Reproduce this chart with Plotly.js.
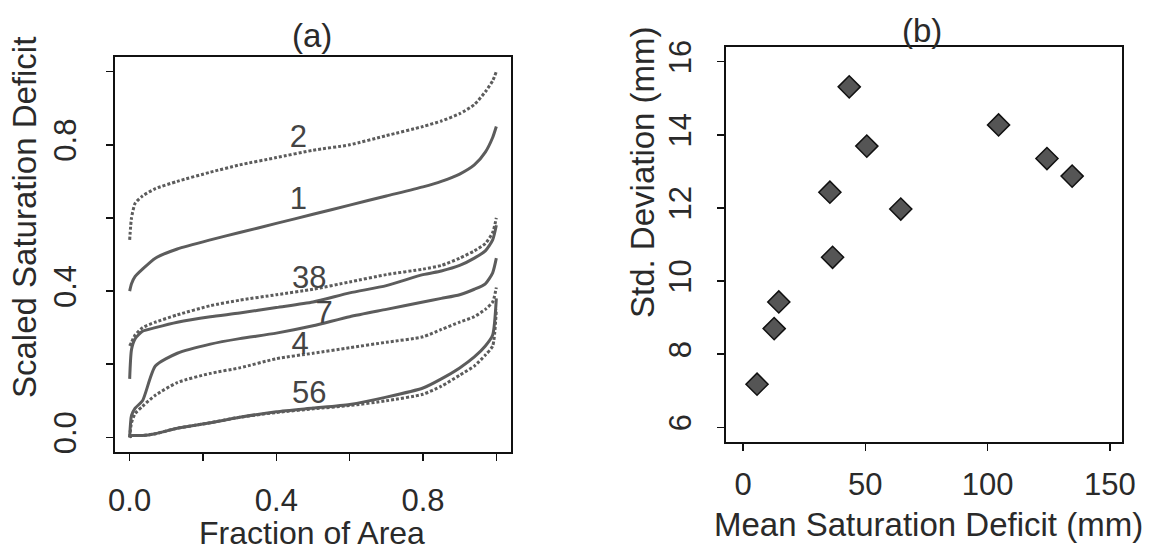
<!DOCTYPE html>
<html>
<head>
<meta charset="utf-8">
<script src="https://cdn.plot.ly/plotly-3.0.1.min.js"></script>
<style>html,body{margin:0;padding:0;background:#fff}#chart{width:1170px;height:553px}</style>
</head>
<body>
<div id="chart"></div>
<script>
// ---------- Panel (a): scaled saturation deficit curves ----------
const fracArea = [0, 0.005, 0.015, 0.035, 0.07, 0.13, 0.22, 0.3, 0.4, 0.5, 0.6, 0.7, 0.8, 0.85, 0.9, 0.94, 0.97, 0.99, 1.0];
const curve1 = [0.40, 0.42, 0.44, 0.46, 0.49, 0.515, 0.54, 0.56, 0.585, 0.61, 0.635, 0.66, 0.685, 0.70, 0.72, 0.745, 0.78, 0.82, 0.85];
const curve2 = [0.54, 0.60, 0.64, 0.66, 0.68, 0.70, 0.725, 0.745, 0.765, 0.785, 0.80, 0.825, 0.85, 0.865, 0.885, 0.91, 0.945, 0.975, 1.0];
const curve3 = [0.25, 0.26, 0.28, 0.30, 0.315, 0.335, 0.36, 0.375, 0.39, 0.405, 0.425, 0.445, 0.46, 0.47, 0.49, 0.51, 0.53, 0.56, 0.60];
const curve8 = [0.16, 0.24, 0.27, 0.29, 0.30, 0.315, 0.33, 0.34, 0.355, 0.37, 0.395, 0.415, 0.445, 0.455, 0.47, 0.49, 0.51, 0.54, 0.58];
const curve7 = [0.0, 0.06, 0.08, 0.10, 0.195, 0.23, 0.255, 0.27, 0.285, 0.305, 0.33, 0.35, 0.37, 0.38, 0.39, 0.405, 0.42, 0.45, 0.49];
const curve4 = [0.0, 0.04, 0.065, 0.085, 0.115, 0.15, 0.175, 0.19, 0.215, 0.23, 0.245, 0.26, 0.275, 0.295, 0.315, 0.33, 0.35, 0.37, 0.41];
const curve5 = [0.0, 0.005, 0.005, 0.005, 0.01, 0.025, 0.04, 0.055, 0.07, 0.08, 0.09, 0.11, 0.135, 0.16, 0.19, 0.22, 0.25, 0.28, 0.38];
const curve6 = [0.0, 0.005, 0.005, 0.005, 0.01, 0.025, 0.04, 0.055, 0.068, 0.078, 0.087, 0.10, 0.118, 0.14, 0.17, 0.195, 0.225, 0.25, 0.35];

const curveLabels = ["2", "1", "38", "7", "4", "56"];
const curveLabelX = [0.46, 0.46, 0.49, 0.53, 0.465, 0.49];
const curveLabelY = [0.815, 0.645, 0.43, 0.335, 0.25, 0.115];

const xTicksA = [0, 0.2, 0.4, 0.6, 0.8, 1.0];
const xTickTextA = ["0.0", "", "0.4", "", "0.8", ""];
const yTicksA = [0, 0.2, 0.4, 0.6, 0.8, 1.0];
const yTickTextA = ["0.0", "", "0.4", "", "0.8", ""];

// ---------- Panel (b): std. deviation vs mean deficit ----------
const meanDeficit = [5.7, 12.7, 14.6, 35.5, 36.6, 43.4, 50.6, 64.5, 104.5, 124.3, 134.6];
const stdDeviation = [7.18, 8.70, 9.43, 12.43, 10.65, 15.31, 13.69, 11.97, 14.27, 13.35, 12.87];
const xTicksB = [0, 50, 100, 150];
const yTicksB = [6, 8, 10, 12, 14, 16];

// ---------- helpers ----------
const W = 1170, H = 553;
const px = v => v / W;
const py = v => 1 - v / H;
const ink = '#2a2a2a';
const lineGray = '#5c5c5c';
const FONT = 'Liberation Sans, Arial, Helvetica, sans-serif';

function curveTrace(y, dashed) {
  return {
    x: fracArea, y: y, xaxis: 'x', yaxis: 'y', type: 'scatter', mode: 'lines',
    line: {color: lineGray, width: 3, dash: dashed ? '3px,2px' : 'solid', shape: 'spline', smoothing: 0.6},
    hoverinfo: 'skip', showlegend: false
  };
}

const traces = [
  curveTrace(curve2, true),
  curveTrace(curve1, false),
  curveTrace(curve3, true),
  curveTrace(curve8, false),
  curveTrace(curve7, false),
  curveTrace(curve4, true),
  curveTrace(curve5, false),
  curveTrace(curve6, true),
  {
    x: curveLabelX, y: curveLabelY, xaxis: 'x', yaxis: 'y', type: 'scatter', mode: 'text',
    text: curveLabels, textposition: 'middle center',
    textfont: {family: FONT, size: 31, color: '#444'},
    hoverinfo: 'skip', showlegend: false
  },
  {
    x: meanDeficit, y: stdDeviation, xaxis: 'x2', yaxis: 'y2', type: 'scatter', mode: 'markers',
    marker: {symbol: 'diamond', size: 17, color: '#555555', line: {color: '#111', width: 1.5}},
    hoverinfo: 'skip', showlegend: false
  }
];

const axisCommon = {
  showgrid: false, zeroline: false, showline: true, mirror: true,
  linecolor: '#111', linewidth: 2, ticks: 'outside', ticklen: 7, tickwidth: 1.5, tickcolor: '#111',
  tickfont: {family: FONT, size: 31, color: ink}, fixedrange: true
};

const layout = {
  width: W, height: H,
  margin: {l: 0, r: 0, t: 0, b: 0},
  paper_bgcolor: '#fff', plot_bgcolor: '#fff',
  showlegend: false,
  xaxis: Object.assign({}, axisCommon, {
    domain: [px(115), px(511)], anchor: 'y', range: [-0.04, 1.04],
    tickmode: 'array', tickvals: xTicksA, ticktext: xTickTextA, ticklabelstandoff: 13
  }),
  yaxis: Object.assign({}, axisCommon, {
    domain: [py(452), py(57)], anchor: 'x', range: [-0.04, 1.04],
    tickmode: 'array', tickvals: yTicksA, ticktext: yTickTextA, tickangle: -90, ticklabelstandoff: 18
  }),
  xaxis2: Object.assign({}, axisCommon, {
    domain: [px(726), px(1122)], anchor: 'y2', range: [-7, 155],
    tickmode: 'array', tickvals: xTicksB, ticktext: xTicksB.map(String), ticklabelstandoff: 7
  }),
  yaxis2: Object.assign({}, axisCommon, {
    domain: [py(442), py(47)], anchor: 'x2', range: [5.6, 16.4],
    tickmode: 'array', tickvals: yTicksB, ticktext: yTicksB.map(String), tickangle: -90, ticklabelstandoff: 14
  }),
  annotations: [
    {text: '(a)', xref: 'paper', yref: 'paper', x: px(312), y: py(35), xanchor: 'center', yanchor: 'middle', showarrow: false, font: {family: FONT, size: 33, color: ink}},
    {text: '(b)', xref: 'paper', yref: 'paper', x: px(922), y: py(30), xanchor: 'center', yanchor: 'middle', showarrow: false, font: {family: FONT, size: 33, color: ink}},
    {text: 'Fraction of Area', xref: 'paper', yref: 'paper', x: px(312), y: 0, xanchor: 'center', yanchor: 'bottom', showarrow: false, font: {family: FONT, size: 32, color: ink}},
    {text: 'Mean Saturation Deficit (mm)', xref: 'paper', yref: 'paper', x: px(928), y: py(524), xanchor: 'center', yanchor: 'middle', showarrow: false, font: {family: FONT, size: 33, color: ink}},
    {text: 'Scaled Saturation Deficit', xref: 'paper', yref: 'paper', x: px(24), y: py(218), xanchor: 'center', yanchor: 'middle', textangle: -90, showarrow: false, font: {family: FONT, size: 33, color: ink}},
    {text: 'Std. Deviation (mm)', xref: 'paper', yref: 'paper', x: px(642), y: py(172), xanchor: 'center', yanchor: 'middle', textangle: -90, showarrow: false, font: {family: FONT, size: 33, color: ink}}
  ]
};

Plotly.newPlot('chart', traces, layout, {staticPlot: true, displayModeBar: false});
</script>
</body>
</html>
